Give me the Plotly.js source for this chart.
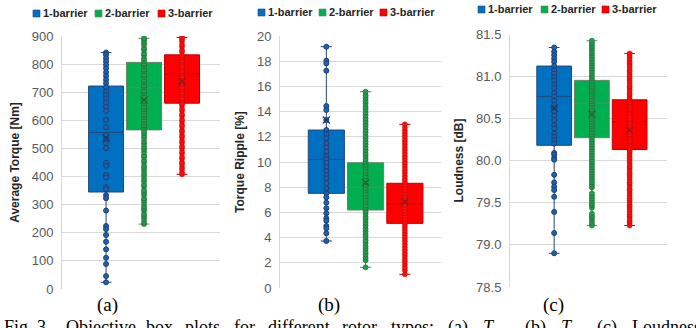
<!DOCTYPE html>
<html><head><meta charset="utf-8">
<script src="https://cdn.plot.ly/plotly-3.0.1.min.js"></script>
<style>html,body{margin:0;padding:0;background:#fff}#chart{width:696px;height:328px}</style>
</head><body><div id="chart"></div>
<script>
const categories = ['1-barrier', '2-barrier', '3-barrier'];

// (a) Average torque [Nm]
const avgTorque1 = [841, 833, 821, 809, 797, 785, 771, 758, 744, 732, 718, 702, 690, 678, 663, 649, 634, 601, 575, 548, 534, 518, 501, 449, 438, 406, 397, 362, 355, 334, 323, 279, 224, 213, 192, 168, 141, 111, 89, 46, 24];
const avgTorque2 = [231, 239, 250, 258, 267, 279, 286, 295, 306, 315, 323, 335, 343, 352, 364, 371, 382, 391, 402, 410, 421, 430, 438, 450, 457, 469, 476, 487, 497, 505, 516, 524, 535, 544, 554, 562, 574, 582, 593, 601, 612, 620, 631, 640, 648, 660, 667, 679, 686, 698, 705, 717, 724, 736, 743, 755, 762, 774, 781, 793, 800, 812, 819, 831, 838, 850, 857, 869, 876, 885, 892];
const avgTorque3 = [408, 414, 425, 433, 444, 451, 463, 470, 482, 489, 501, 508, 520, 527, 539, 546, 558, 565, 577, 584, 596, 603, 615, 622, 634, 641, 653, 660, 672, 679, 691, 698, 710, 717, 729, 736, 748, 755, 767, 774, 786, 793, 805, 812, 824, 831, 843, 850, 862, 869, 880, 888, 895];
const avgQ1 = [345, 566, 661];
const avgMedian = [557, 716, 765];
const avgQ3 = [722, 806, 833];
const avgMin = [24, 231, 408];
const avgMax = [841, 892, 895];
const avgMean = [537, 672, 738];

// (b) Torque ripple [%]
const ripple1 = [19.15, 18.04, 17.83, 17.25, 14.44, 14.13, 13.33, 12.54, 12.2, 11.88, 11.48, 11.17, 10.82, 10.48, 10.21, 9.95, 9.62, 9.3, 8.97, 8.7, 8.31, 7.91, 7.51, 7.2, 6.77, 6.33, 5.93, 5.53, 5.34, 4.92, 4.74, 4.34, 3.73];
const ripple2 = [1.64, 2.21, 2.42, 2.66, 2.87, 3.12, 3.33, 3.58, 3.79, 4.04, 4.25, 4.5, 4.71, 4.96, 5.17, 5.42, 5.63, 5.88, 6.09, 6.34, 6.55, 6.8, 7.01, 7.26, 7.47, 7.72, 7.93, 8.18, 8.39, 8.64, 8.85, 9.1, 9.31, 9.56, 9.77, 10.02, 10.23, 10.48, 10.69, 10.94, 11.15, 11.4, 11.61, 11.86, 12.07, 12.32, 12.53, 12.78, 12.99, 13.24, 13.45, 13.7, 13.91, 14.16, 14.37, 14.62, 14.83, 15.08, 15.29, 15.58];
const ripple3 = [1.09, 1.41, 1.63, 1.86, 2.09, 2.3, 2.54, 2.76, 2.99, 3.21, 3.44, 3.67, 3.89, 4.12, 4.35, 4.57, 4.8, 5.02, 5.25, 5.48, 5.7, 5.93, 6.16, 6.38, 6.61, 6.83, 7.06, 7.29, 7.51, 7.74, 7.97, 8.19, 8.42, 8.64, 8.87, 9.1, 9.32, 9.55, 9.78, 10.0, 10.23, 10.45, 10.68, 10.91, 11.13, 11.36, 11.59, 11.81, 12.04, 12.26, 12.49, 12.72, 12.99];
const ripQ1 = [7.51, 6.19, 5.13];
const ripMedian = [10.21, 7.99, 6.67];
const ripQ3 = [12.54, 9.94, 8.31];
const ripMin = [3.73, 1.64, 1.09];
const ripMax = [19.15, 15.58, 12.99];
const ripMean = [13.33, 8.36, 6.85];

// (c) Loudness [dB]
const loud1 = [81.34, 81.29, 81.25, 81.21, 81.17, 81.12, 81.07, 81.03, 80.99, 80.95, 80.9, 80.86, 80.8, 80.76, 80.71, 80.66, 80.62, 80.58, 80.53, 80.48, 80.42, 80.38, 80.32, 80.28, 80.24, 80.2, 80.09, 80.07, 80.03, 80.01, 79.83, 79.74, 79.69, 79.65, 79.57, 79.39, 79.14, 78.9];
const loud2 = [79.23, 79.26, 79.29, 79.32, 79.34, 79.37, 79.44, 79.47, 79.49, 79.52, 79.55, 79.58, 79.61, 79.68, 79.71, 79.74, 79.77, 79.8, 79.83, 79.86, 79.89, 79.92, 79.95, 79.98, 80.01, 80.04, 80.07, 80.1, 80.13, 80.16, 80.19, 80.22, 80.25, 80.28, 80.31, 80.34, 80.37, 80.4, 80.43, 80.46, 80.49, 80.52, 80.55, 80.58, 80.61, 80.64, 80.67, 80.7, 80.73, 80.76, 80.79, 80.82, 80.85, 80.88, 80.91, 80.94, 80.97, 81.0, 81.03, 81.06, 81.09, 81.12, 81.15, 81.18, 81.21, 81.24, 81.27, 81.3, 81.33, 81.36, 81.39, 81.42];
const loud3 = [79.23, 79.26, 79.28, 79.31, 79.34, 79.36, 79.39, 79.42, 79.45, 79.47, 79.5, 79.53, 79.55, 79.58, 79.61, 79.64, 79.66, 79.69, 79.72, 79.74, 79.77, 79.8, 79.83, 79.85, 79.88, 79.91, 79.93, 79.96, 79.99, 80.02, 80.04, 80.07, 80.1, 80.12, 80.15, 80.18, 80.21, 80.23, 80.26, 80.29, 80.31, 80.34, 80.37, 80.4, 80.42, 80.45, 80.48, 80.5, 80.53, 80.56, 80.59, 80.61, 80.64, 80.67, 80.69, 80.72, 80.75, 80.78, 80.8, 80.83, 80.86, 80.88, 80.91, 80.94, 80.97, 80.99, 81.02, 81.05, 81.07, 81.1, 81.13, 81.16, 81.18, 81.21, 81.24, 81.27];
const loudQ1 = [80.18, 80.27, 80.13];
const loudMedian = [80.76, 80.68, 80.46];
const loudQ3 = [81.12, 80.95, 80.72];
const loudMin = [78.9, 79.23, 79.23];
const loudMax = [81.34, 81.42, 81.27];
const loudMean = [80.62, 80.55, 80.36];

// caption words (justified line, partly cut at the bottom edge)
const captionWords = ['Fig. 3.', 'Objective', 'box', 'plots', 'for', 'different', 'rotor', 'types:', '(a)', '<i>T</i><sub>avg</sub>', '(b)', '<i>T</i><sub>rip</sub>', '(c)', 'Loudness'];

// ---- styles ----
const W = 696, H = 328;
const FILL = ['#0070C0', '#00B050', '#FF0000'];
const BOXLINE = ['#24487A', '#5E8660', '#C00000'];
const PTFILL = ['#1C62B0', '#1DA24C', '#FF1010'];
const PTLINE = ['#1F3F70', 'rgba(40,95,55,0.65)', 'rgba(170,0,0,0.45)'];
const MEANC = ['#1F3864', '#2F5A34', '#8A1C1C'];
const px = x => x / W, py = y => 1 - y / H;

const traces = [];
function addPanel(k, series, q1, med, q3, lo, hi, mean) {
  const xa = 'x' + (k === 1 ? '' : k), ya = 'y' + (k === 1 ? '' : k);
  for (let i = 0; i < 3; i++) {
    traces.push({
      type: 'box', xaxis: xa, yaxis: ya, x: [categories[i]],
      q1: [q1[i]], median: [med[i]], q3: [q3[i]], lowerfence: [lo[i]], upperfence: [hi[i]],
      boxpoints: false, width: 0.92, whiskerwidth: 0.31,
      fillcolor: FILL[i], line: {color: BOXLINE[i], width: 1},
      showlegend: false, hoverinfo: 'skip'
    });
  }
  for (let i = 0; i < 3; i++) {
    traces.push({
      type: 'scatter', mode: 'markers', xaxis: xa, yaxis: ya,
      x: series[i].map(() => categories[i]), y: series[i],
      marker: {size: 5, color: PTFILL[i], line: {color: PTLINE[i], width: 1}},
      showlegend: false, hoverinfo: 'y'
    });
  }
  for (let i = 0; i < 3; i++) {
    traces.push({
      type: 'scatter', mode: 'markers', xaxis: xa, yaxis: ya,
      x: [categories[i]], y: [mean[i]],
      marker: {symbol: 'x-thin', size: 7, line: {color: MEANC[i], width: 1.3}},
      showlegend: false, hoverinfo: 'y'
    });
  }
}
addPanel(1, [avgTorque1, avgTorque2, avgTorque3], avgQ1, avgMedian, avgQ3, avgMin, avgMax, avgMean);
addPanel(2, [ripple1, ripple2, ripple3], ripQ1, ripMedian, ripQ3, ripMin, ripMax, ripMean);
addPanel(3, [loud1, loud2, loud3], loudQ1, loudMedian, loudQ3, loudMin, loudMax, loudMean);

const FONT = 'Liberation Sans, Arial, sans-serif';
const SERIF = 'Liberation Serif, Times New Roman, serif';
function xAxis(l, r, range) {
  return {domain: [px(l), px(r)], type: 'category', categoryorder: 'array', categoryarray: categories,
    range: range, showticklabels: false, showgrid: false, zeroline: false, showline: false, ticks: '', fixedrange: true};
}
function yAxis(t, b, range, dtick, title, fmt) {
  return {domain: [py(b), py(t)], range: range, dtick: dtick, tick0: range[0], tickformat: fmt || '',
    showgrid: true, gridcolor: '#D9D9D9', gridwidth: 1, zeroline: false,
    showline: true, linecolor: '#D9D9D9', linewidth: 1, ticks: '', ticklabelstandoff: 5,
    tickfont: {family: FONT, size: 13, color: '#595959'}, automargin: false,
    title: {text: title, standoff: 9, font: {family: FONT, size: 12, color: '#262626', weight: 'bold'}}};
}

const shapes = [], annotations = [];
const legendPos = [[[33, 95, 158], 13.5], [[258, 319, 380], 12.5], [[478, 541, 602], 9.5]];
legendPos.forEach(([xs, yc]) => {
  xs.forEach((x0, i) => {
    shapes.push({type: 'rect', xref: 'paper', yref: 'paper', x0: px(x0), x1: px(x0 + 7), y0: py(yc + 3.5), y1: py(yc - 3.5),
      fillcolor: FILL[i], line: {color: BOXLINE[i], width: 0.6}});
    annotations.push({xref: 'paper', yref: 'paper', x: px(x0 + 8), y: py(yc), xanchor: 'left', yanchor: 'middle', showarrow: false,
      text: '<b>' + categories[i] + '</b>', font: {family: FONT, size: 11, color: '#262626'}});
  });
});
[['(a)', 107], ['(b)', 329], ['(c)', 553]].forEach(([t, x]) => {
  annotations.push({xref: 'paper', yref: 'paper', x: px(x), y: py(305), xanchor: 'center', yanchor: 'middle', showarrow: false,
    text: t, font: {family: SERIF, size: 19, color: '#000'}});
});
// justified caption: word left edges (px)
const captionX = [2, 64, 144, 183, 232, 266, 340, 389, 446, 481, 523, 559, 595, 630];
captionWords.forEach((w, i) => {
  annotations.push({xref: 'paper', yref: 'paper', x: px(captionX[i]), y: py(315), xanchor: 'left', yanchor: 'top', showarrow: false,
    text: w, font: {family: SERIF, size: 18, color: '#000'}});
});

const layout = {
  width: W, height: H, margin: {l: 0, r: 0, t: 0, b: 0}, paper_bgcolor: '#fff', plot_bgcolor: '#fff',
  showlegend: false, boxmode: 'overlay',
  xaxis: xAxis(62, 220, [-1.16, 3.0]),
  yaxis: yAxis(36, 289, [0, 900], 100, 'Average Torque [Nm]'),
  xaxis2: xAxis(280, 441, [-1.18, 2.92]),
  yaxis2: yAxis(36, 288, [0, 20], 2, 'Torque Ripple [%]'),
  xaxis3: xAxis(510, 667, [-1.17, 2.99]),
  yaxis3: yAxis(34, 287, [78.5, 81.5], 0.5, 'Loudness [dB]', '.1f'),
  shapes: shapes, annotations: annotations
};
layout.yaxis2.anchor = 'x2'; layout.yaxis3.anchor = 'x3';
layout.xaxis2.anchor = 'y2'; layout.xaxis3.anchor = 'y3';
layout.xaxis.anchor = 'y'; layout.yaxis.anchor = 'x';

Plotly.newPlot('chart', traces, layout, {staticPlot: true, displayModeBar: false});
</script></body></html>
